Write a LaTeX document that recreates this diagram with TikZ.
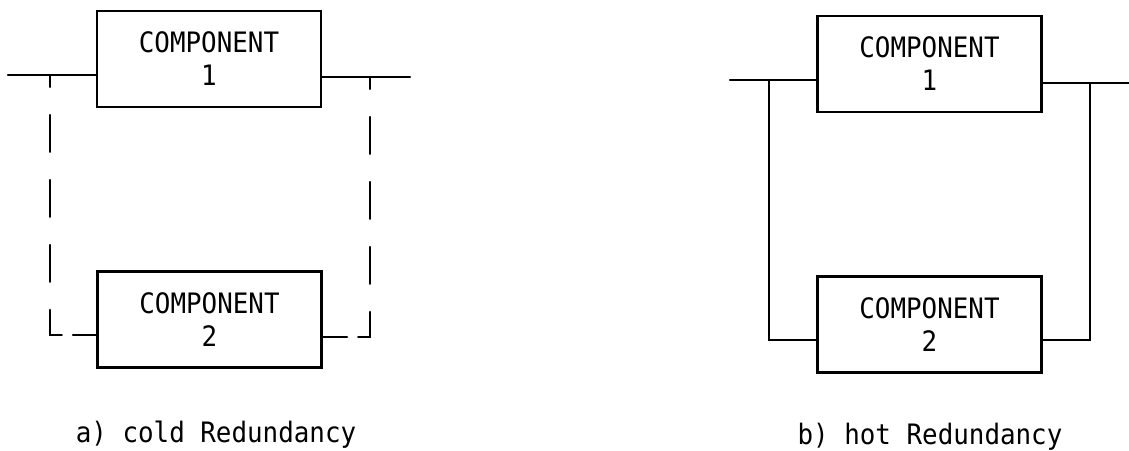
\documentclass[tikz,border=0pt]{standalone}
\usepackage{fontspec}
\newfontfamily\printfont[FakeStretch=0.92]{DejaVu Sans Mono}

\begin{document}
\begin{tikzpicture}[x=0.025cm,y=-0.025cm,line width=1.6pt,line cap=round,
  font=\printfont\fontsize{20}{23.5}\selectfont,
  comp/.style={draw,align=center,minimum width=5.6cm,minimum height=2.4cm,inner sep=0pt},
  standby/.style={dash pattern=on 26.3pt off 19.9pt,dash phase=17.8pt}]
  \useasboundingbox (0,0) rectangle (1129,450);

  % a) cold redundancy
  \node[comp] (c1a) at (209,59) {COMPONENT\\1};
  \node[comp] (c2a) at (209.5,319.5) {COMPONENT\\2};
  \coordinate (ina) at (8,75);
  \coordinate (outa) at (410,77);
  \coordinate (ja) at (50,75);
  \coordinate (ka) at (370,77);
  \coordinate (sa) at (73,335);
  \coordinate (ta) at (347,337);
  \draw (ina) -- (ina -| c1a.west);
  \draw (c1a.east |- outa) -- (outa);
  \draw[standby] (ja) |- (sa);
  \draw[standby] (ka) |- (ta);
  \draw (sa) -- (sa -| c2a.west);
  \draw (ta) -- (ta -| c2a.east);
  \node[anchor=base] (laba) at (216,442) {a) cold Redundancy};

  % b) hot redundancy
  \node[comp] (c1b) at (929.5,64) {COMPONENT\\1};
  \node[comp] (c2b) at (929.5,324.5) {COMPONENT\\2};
  \coordinate (inb) at (730,80);
  \coordinate (outb) at (1129,83);
  \coordinate (jb) at (769,80);
  \coordinate (kb) at (1090,83);
  \coordinate (sb) at (769,340);
  \coordinate (tb) at (1090,340);
  \draw (inb) -- (inb -| c1b.west);
  \draw (c1b.east |- outb) -- (outb);
  \draw (jb) -- (sb) -- (sb -| c2b.west);
  \draw (kb) -- (tb) -- (tb -| c2b.east);
  \node[anchor=base] (labb) at (930,444) {b) hot Redundancy};
\end{tikzpicture}
\end{document}
